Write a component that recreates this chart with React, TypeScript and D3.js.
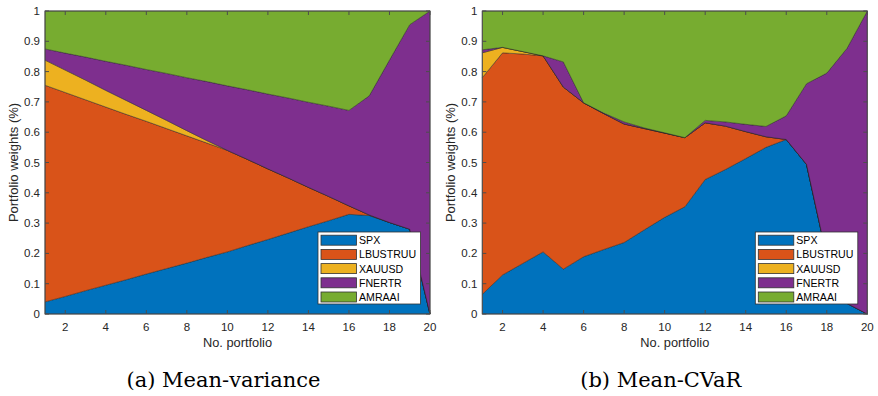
import React from "react";
import * as d3 from "d3";

const assets = ["SPX", "LBUSTRUU", "XAUUSD", "FNERTR", "AMRAAI"];
const colors = ["#0072BD", "#D95319", "#EDB120", "#7E2F8E", "#77AC30"];
const portfolios = [1, 2, 3, 4, 5, 6, 7, 8, 9, 10, 11, 12, 13, 14, 15, 16, 17, 18, 19, 20];

// Mean-variance weights
const mvSPX = [0.040, 0.058, 0.077, 0.095, 0.113, 0.132, 0.150, 0.168, 0.187, 0.205, 0.226, 0.246, 0.267, 0.288, 0.308, 0.329, 0.325, 0.302, 0.280, 0.0];
const mvLBUSTRUU = [0.715, 0.673, 0.630, 0.588, 0.546, 0.504, 0.462, 0.420, 0.377, 0.335, 0.284, 0.233, 0.182, 0.130, 0.080, 0.028, 0.002, 0, 0, 0];
const mvXAUUSD = [0.083, 0.074, 0.065, 0.055, 0.046, 0.036, 0.027, 0.017, 0.008, 0, 0, 0, 0, 0, 0, 0, 0, 0, 0, 0];
const mvFNERTR = [0.037, 0.056, 0.076, 0.096, 0.116, 0.135, 0.155, 0.175, 0.195, 0.213, 0.230, 0.247, 0.264, 0.281, 0.298, 0.315, 0.393, 0.536, 0.675, 1.0];
const mvAMRAAI = [0.125, 0.139, 0.152, 0.166, 0.179, 0.193, 0.206, 0.220, 0.233, 0.247, 0.260, 0.274, 0.287, 0.301, 0.314, 0.328, 0.280, 0.162, 0.045, 0];

// Mean-CVaR weights
const cvSPX = [0.065, 0.129, 0.167, 0.205, 0.148, 0.189, 0.213, 0.236, 0.278, 0.319, 0.354, 0.444, 0.477, 0.513, 0.550, 0.576, 0.494, 0.190, 0.035, 0];
const cvLBUSTRUU = [0.715, 0.733, 0.691, 0.647, 0.601, 0.508, 0.448, 0.391, 0.334, 0.278, 0.228, 0.187, 0.143, 0.089, 0.035, 0, 0, 0, 0, 0];
const cvXAUUSD = [0.082, 0.018, 0.008, 0, 0, 0, 0, 0, 0, 0, 0, 0, 0, 0, 0, 0, 0, 0, 0, 0];
const cvFNERTR = [0.010, 0, 0, 0, 0.083, 0, 0.002, 0.007, 0.002, 0.001, 0, 0.008, 0.014, 0.024, 0.034, 0.078, 0.266, 0.605, 0.842, 1.0];
const cvAMRAAI = [0.128, 0.120, 0.134, 0.148, 0.168, 0.303, 0.337, 0.366, 0.386, 0.402, 0.418, 0.361, 0.366, 0.374, 0.381, 0.346, 0.240, 0.205, 0.123, 0];

const xTicks = [2, 4, 6, 8, 10, 12, 14, 16, 18, 20];
const yTicks = [0, 0.1, 0.2, 0.3, 0.4, 0.5, 0.6, 0.7, 0.8, 0.9, 1];
const yTickLabels = ["0", "0.1", "0.2", "0.3", "0.4", "0.5", "0.6", "0.7", "0.8", "0.9", "1"];

const SANS = "'Liberation Sans', Arial, Helvetica, sans-serif";
const SERIF = "'DejaVu Serif', serif";

type PanelProps = {
  left: number;
  series: number[][];
  caption: string;
};

function Panel({ left, series, caption }: PanelProps) {
  const top = 11;
  const bottom = 314;
  const width = 385;
  const right = left + width;
  const x = d3.scaleLinear().domain([1, 20]).range([left, right]);
  const y = d3.scaleLinear().domain([0, 1]).range([bottom, top]);

  const rows = portfolios.map((p, i) => {
    const r: any = { p };
    assets.forEach((a, k) => (r[a] = series[k][i]));
    return r;
  });
  const stacked = d3.stack<any>().keys(assets)(rows);
  const area = d3
    .area<any>()
    .x((d) => x(d.data.p))
    .y0((d) => y(d[0]))
    .y1((d) => y(d[1]));

  const axisColor = "#4d4d4d";
  const tickLen = 4;
  const lgLeft = left + 273;
  const lgTop = 232;
  const lgW = 102.5;
  const lgH = 72;
  const rowH = 14.2;

  return (
    <g>
      {stacked.map((s, k) => (
        <path
          key={assets[k]}
          d={area(s) || ""}
          fill={colors[k]}
          stroke="#222"
          strokeWidth={0.6}
          strokeOpacity={0.75}
          strokeLinejoin="round"
        />
      ))}
      {/* axes box */}
      <rect x={left} y={top} width={width} height={bottom - top} fill="none" stroke={axisColor} strokeWidth={1} />
      {xTicks.map((t) => (
        <g key={"xt" + t}>
          <line x1={x(t)} x2={x(t)} y1={bottom} y2={bottom - tickLen} stroke={axisColor} />
          <line x1={x(t)} x2={x(t)} y1={top} y2={top + tickLen} stroke={axisColor} />
          <text x={x(t)} y={331} textAnchor="middle" fontFamily={SANS} fontSize={11.5} fill="#262626">
            {t}
          </text>
        </g>
      ))}
      {yTicks.map((t, i) => (
        <g key={"yt" + t}>
          <line x1={left} x2={left + tickLen} y1={y(t)} y2={y(t)} stroke={axisColor} />
          <line x1={right} x2={right - tickLen} y1={y(t)} y2={y(t)} stroke={axisColor} />
          <text x={left - 5} y={y(t) + 4} textAnchor="end" fontFamily={SANS} fontSize={11.5} fill="#262626">
            {yTickLabels[i]}
          </text>
        </g>
      ))}
      <text x={(left + right) / 2} y={347} textAnchor="middle" fontFamily={SANS} fontSize={12.8} fill="#262626">
        No. portfolio
      </text>
      <text
        transform={`translate(${left - 27},${(top + bottom) / 2}) rotate(-90)`}
        textAnchor="middle"
        fontFamily={SANS}
        fontSize={13}
        fill="#262626"
      >
        Portfolio weights (%)
      </text>
      {/* legend */}
      <rect x={lgLeft} y={lgTop} width={lgW} height={lgH} fill="#fff" stroke="#333" strokeWidth={0.8} />
      {assets.map((a, k) => {
        const cy = lgTop + 8.2 + k * rowH;
        return (
          <g key={"lg" + a}>
            <rect x={lgLeft + 3} y={cy - 5} width={35.5} height={10} fill={colors[k]} stroke="#333" strokeWidth={0.8} />
            <text x={lgLeft + 41} y={cy + 4} fontFamily={SANS} fontSize={10.6} fill="#000">
              {a}
            </text>
          </g>
        );
      })}
      <text x={left - 14 + width / 2} y={386.5} textAnchor="middle" fontFamily={SERIF} fontSize={21} fill="#000">
        {caption}
      </text>
    </g>
  );
}

export default function App() {
  const mv = [mvSPX, mvLBUSTRUU, mvXAUUSD, mvFNERTR, mvAMRAAI];
  const cv = [cvSPX, cvLBUSTRUU, cvXAUUSD, cvFNERTR, cvAMRAAI];
  return (
    <svg
      width={878}
      height={396}
      style={{ position: "absolute", left: 0, top: 0, background: "#fff" }}
    >
      <rect x={0} y={0} width={878} height={396} fill="#fff" />
      <Panel left={45} series={mv} caption="(a) Mean-variance" />
      <Panel left={482.3} series={cv} caption="(b) Mean-CVaR" />
    </svg>
  );
}
